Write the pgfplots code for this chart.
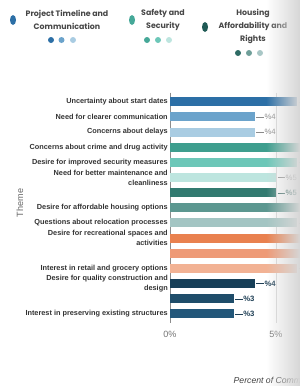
\documentclass[border=0pt]{standalone}
\usepackage{pgfplots}
\pgfplotsset{compat=1.18}
\usepackage{fontspec}
\setmainfont{Liberation Sans}
\newfontfamily\legfont{Poppins}
\usetikzlibrary{fadings}
\definecolor{c1}{HTML}{2C6FA6}
\definecolor{c2}{HTML}{6BA3CB}
\definecolor{c3}{HTML}{A9CCE2}
\definecolor{c4}{HTML}{3E9E8E}
\definecolor{c5}{HTML}{6CC7B8}
\definecolor{c6}{HTML}{BDE5DF}
\definecolor{c7}{HTML}{327A70}
\definecolor{c8}{HTML}{5C9790}
\definecolor{c9}{HTML}{A3C5C3}
\definecolor{c10}{HTML}{E9814F}
\definecolor{c11}{HTML}{EE9A77}
\definecolor{c12}{HTML}{F2B294}
\definecolor{c13}{HTML}{173F58}
\definecolor{c14}{HTML}{1F4D6A}
\definecolor{c15}{HTML}{23577A}
\definecolor{g2a}{HTML}{45A898}
\definecolor{g3a}{HTML}{2E6B64}
\definecolor{g3b}{HTML}{6F9F99}
\definecolor{g3c}{HTML}{A9C7C6}
\definecolor{g3e}{HTML}{1F5A55}
\definecolor{labgray}{HTML}{8A8A8A}
\definecolor{labdark}{HTML}{1F3F55}
\definecolor{labteal}{HTML}{2F625C}
\definecolor{txt}{HTML}{333333}
\tikzfading[name=fadeinright, left color=transparent!100, right color=transparent!0]
\newcommand{\lab}[2]{\textcolor{#1}{\rule[0.55ex]{5.5pt}{0.4pt}\hspace{0.6pt}\%#2}}
\pgfplotsset{
  mybar/.style={xbar, bar shift=0pt, bar width=6.75pt, draw=none, fill=#1,
    nodes near coords align={horizontal}},
}
\begin{document}
\begin{tikzpicture}
% legend
\begin{scope}[x=0.75pt,y=-0.75pt,every node/.style={font=\legfont\bfseries\fontsize{5.9}{9.7}\selectfont, text=black!72, align=center, inner sep=0pt}]
\fill[c1] (13,20) ellipse [x radius=3, y radius=5];
\node at (67,19.5) {Project Timeline and\\Communication};
\fill[c1] (51,40) circle [radius=3];
\fill[c2] (61.5,40) circle [radius=3];
\fill[c3] (73,40) circle [radius=3];
\fill[g2a] (132,20) ellipse [x radius=3, y radius=5];
\node at (163,19.5) {Safety and\\Security};
\fill[g2a] (147,40) circle [radius=3];
\fill[c5] (158,40) circle [radius=3];
\fill[c6] (169,40) circle [radius=3];
\fill[g3e] (205,27) ellipse [x radius=3, y radius=5];
\node at (253,26.5) {Housing\\Affordability and\\Rights};
\fill[g3a] (238,53) circle [radius=3];
\fill[g3b] (249,53) circle [radius=3];
\fill[g3c] (260,53) circle [radius=3];
\node[rotate=90, font=\fontsize{6.8}{8}\selectfont, text=black!60] at (20,203) {Theme};
\end{scope}
\begin{axis}[
  at={(127.5pt,-69.45pt)}, anchor=north west,
  scale only axis, width=127.2pt, height=172.8pt,
  xmin=0, xmax=8, ymin=0.4, ymax=15.6, y dir=reverse,
  axis x line*=bottom, axis y line*=left,
  x axis line style={draw=none},
  y axis line style={draw=black!45, line width=0.5pt},
  xtick={0,5}, xticklabels={0\%,5\%},
  xmajorgrids, grid style={black!15, line width=0.4pt},
  major tick length=0pt,
  xticklabel style={font=\fontsize{6.8}{8}\selectfont, text=black!55, yshift=-2.5pt},
  ytick={1,...,15},
  yticklabels={{Uncertainty about start dates},{Need for clearer communication},{Concerns about delays},{Concerns about crime and drug activity},{Desire for improved security measures},{Need for better maintenance and\\cleanliness},{},{Desire for affordable housing options},{Questions about relocation processes},{Desire for recreational spaces and\\activities},{},{Interest in retail and grocery options},{Desire for quality construction and\\design},{},{Interest in preserving existing structures}},
  yticklabel style={font=\bfseries\fontsize{5.5}{7.6}\selectfont, text=txt, align=right, inner sep=1.5pt},
  xlabel={\itshape Percent of Comments},
  xlabel style={at={(rel axis cs:0,0)}, anchor=west, xshift=44.25pt, yshift=-42.75pt, font=\fontsize{6.5}{7}\selectfont, text=black!75},
  nodes near coords style={font=\fontsize{5.8}{7}\selectfont, anchor=west, inner xsep=1pt},
  clip=false,
]
\addplot[mybar=c1, nodes near coords={\lab{labgray}{6}}] coordinates {(6,1)};
\addplot[mybar=c2, nodes near coords={\lab{labgray}{4}}] coordinates {(4,2)};
\addplot[mybar=c3, nodes near coords={\lab{labgray}{4}}] coordinates {(4,3)};
\addplot[mybar=c4, nodes near coords={\lab{labgray}{7}}] coordinates {(7,4)};
\addplot[mybar=c5, nodes near coords={\lab{labgray}{6}}] coordinates {(6,5)};
\addplot[mybar=c6, nodes near coords={\lab{labgray}{5}}] coordinates {(5,6)};
\addplot[mybar=c7, nodes near coords={\textbf{\lab{labteal}{5}}}] coordinates {(5,7)};
\addplot[mybar=c8, nodes near coords={\lab{labgray}{7}}] coordinates {(7,8)};
\addplot[mybar=c9, nodes near coords={\lab{labgray}{6}}] coordinates {(6,9)};
\addplot[mybar=c10, nodes near coords={\lab{labgray}{7}}] coordinates {(7,10)};
\addplot[mybar=c11, nodes near coords={\lab{labgray}{7}}] coordinates {(7,11)};
\addplot[mybar=c12, nodes near coords={\lab{labgray}{6}}] coordinates {(6,12)};
\addplot[mybar=c13, nodes near coords={\textbf{\lab{labdark}{4}}}] coordinates {(4,13)};
\addplot[mybar=c14, nodes near coords={\textbf{\lab{labdark}{3}}}] coordinates {(3,14)};
\addplot[mybar=c15, nodes near coords={\textbf{\lab{labdark}{3}}}] coordinates {(3,15)};
\end{axis}
\begin{scope}[x=0.75pt,y=-0.75pt]
\fill[black!16, path fading=fadeinright] (266,0) rectangle (300,386);
\pgfresetboundingbox
\path[use as bounding box] (0,0) rectangle (300,386);
\end{scope}
\end{tikzpicture}
\end{document}
